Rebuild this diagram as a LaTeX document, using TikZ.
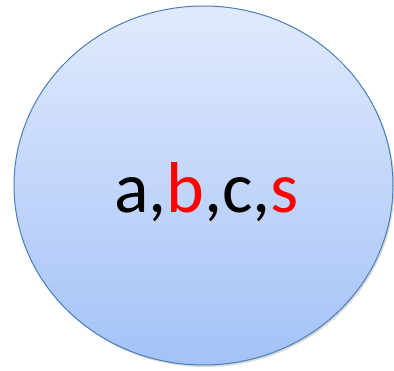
\documentclass[tikz,border=0pt]{standalone}
\usepackage{fontspec}
\setmainfont{Carlito}
\usetikzlibrary{shadows}
\definecolor{topblue}{HTML}{E0EAFD}
\definecolor{botblue}{HTML}{A4C2F7}
\definecolor{edgeblue}{HTML}{4A7EBB}
\definecolor{lblred}{HTML}{FF0000}
\tikzset{
  bubble/.style={draw=edgeblue, line width=1pt, top color=topblue, bottom color=botblue,
    drop shadow={shadow xshift=1.5pt, shadow yshift=-2pt, opacity=0.25, fill=black!60}},
  lbl/.style={font=\fontsize{72}{72}\selectfont, inner sep=0pt, anchor=base}
}
\begin{document}
\begin{tikzpicture}[x=1pt,y=1pt]
\useasboundingbox (0,0) rectangle (394,-371);
\path[bubble] (203.5,-185.5) ellipse [x radius=189.5, y radius=179.5];
\node[lbl] (t) at (206.5,-213) {a,\textcolor{lblred}{b},c,\textcolor{lblred}{s}};
\end{tikzpicture}
\end{document}
